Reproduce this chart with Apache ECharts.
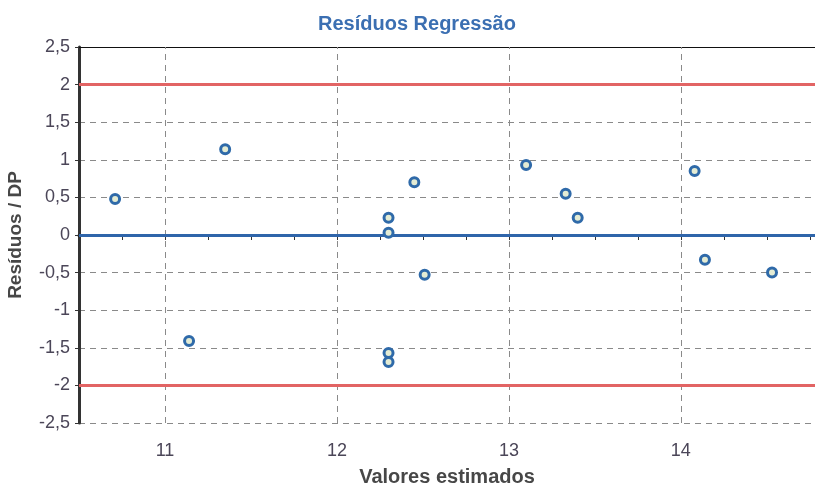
<!DOCTYPE html>
<html>
<head>
<meta charset="utf-8">
<script src="https://cdn.jsdelivr.net/npm/echarts@6/dist/echarts.min.js"></script>
<style>
  html, body { margin: 0; padding: 0; background: #fff; }
  #chart { width: 815px; height: 484px; }
</style>
</head>
<body>
<div id="chart"></div>
<script>
// valores estimados (x) e resíduos / DP (y)
const valoresEstimados = [10.71, 11.14, 11.35, 12.30, 12.30, 12.30, 12.30, 12.45, 12.51, 13.10, 13.33, 13.40, 14.08, 14.14, 14.53];
const residuos = [0.48, -1.41, 1.14, 0.23, 0.03, -1.57, -1.69, 0.70, -0.53, 0.93, 0.55, 0.23, 0.85, -0.33, -0.50];
const limites = [2, -2];
const linhaZero = [0];
const gradeX = [11, 12, 13, 14];

const chart = echarts.init(document.getElementById('chart'));

const pontos = valoresEstimados.map((v, i) => [v, residuos[i]]);
const fonte = 'Liberation Sans, Arial, sans-serif';

chart.setOption({
  animation: false,
  backgroundColor: '#fff',
  title: {
    text: 'Resíduos Regressão',
    left: 313,
    top: 9,
    textStyle: { color: '#3b6fb2', fontSize: 20, fontWeight: 'bold', fontFamily: fonte }
  },
  grid: { left: 79, right: 0, top: 47, bottom: 61, outerBoundsMode: 'none', containLabel: false },
  xAxis: [
    {
      type: 'value',
      min: 10.5,
      max: 14.78,
      interval: 0.25,
      name: 'Valores estimados',
      nameLocation: 'middle',
      nameGap: 44,
      nameTextStyle: { color: '#474747', fontSize: 20, fontWeight: 'bold', fontFamily: fonte },
      axisLine: { lineStyle: { color: '#222', width: 3 } },
      axisTick: { show: true, length: 5, lineStyle: { color: '#333' } },
      axisLabel: {
        color: '#4b4658',
        fontSize: 18,
        fontFamily: fonte,
        margin: 19,
        showMaxLabel: false,
        formatter: v => (Number.isInteger(v) ? String(v) : '')
      },
      splitLine: { show: false }
    },
    {
      type: 'value',
      position: 'top',
      min: 10.5,
      max: 14.78,
      axisLine: { show: true, lineStyle: { color: '#111', width: 1 } },
      axisTick: { show: false },
      axisLabel: { show: false },
      splitLine: { show: false }
    }
  ],
  yAxis: {
    type: 'value',
    min: -2.5,
    max: 2.5,
    interval: 0.5,
    name: 'Resíduos / DP',
    nameLocation: 'middle',
    nameGap: 54,
    nameTextStyle: { color: '#474747', fontSize: 19, fontWeight: 'bold', fontFamily: fonte },
    axisLine: { show: true, lineStyle: { color: '#333', width: 3 } },
    axisTick: { show: true, length: 4, lineStyle: { color: '#333' } },
    axisLabel: {
      color: '#4b4658',
      fontSize: 18,
      fontFamily: fonte,
      margin: 9,
      formatter: v => String(v).replace('.', ',')
    },
    splitLine: { show: true, lineStyle: { color: '#8a8a8a', width: 1, type: [6, 5] } }
  },
  series: [
    {
      type: 'scatter',
      data: [],
      silent: true,
      markLine: {
        silent: true,
        symbol: 'none',
        label: { show: false },
        data: [
          ...gradeX.map(x => ({ xAxis: x, lineStyle: { color: '#8a8a8a', width: 1, type: [6, 5] } })),
          ...limites.map(y => ({ yAxis: y, lineStyle: { color: '#e26464', width: 3, type: 'solid' } })),
          ...linhaZero.map(y => ({ yAxis: y, lineStyle: { color: '#2f65aa', width: 3, type: 'solid' } }))
        ]
      }
    },
    {
      type: 'scatter',
      data: pontos,
      symbol: 'circle',
      symbolSize: 9,
      z: 5,
      itemStyle: { color: '#e4ecd4', borderColor: '#2f6aa9', borderWidth: 3, opacity: 1 }
    }
  ]
});
</script>
</body>
</html>
